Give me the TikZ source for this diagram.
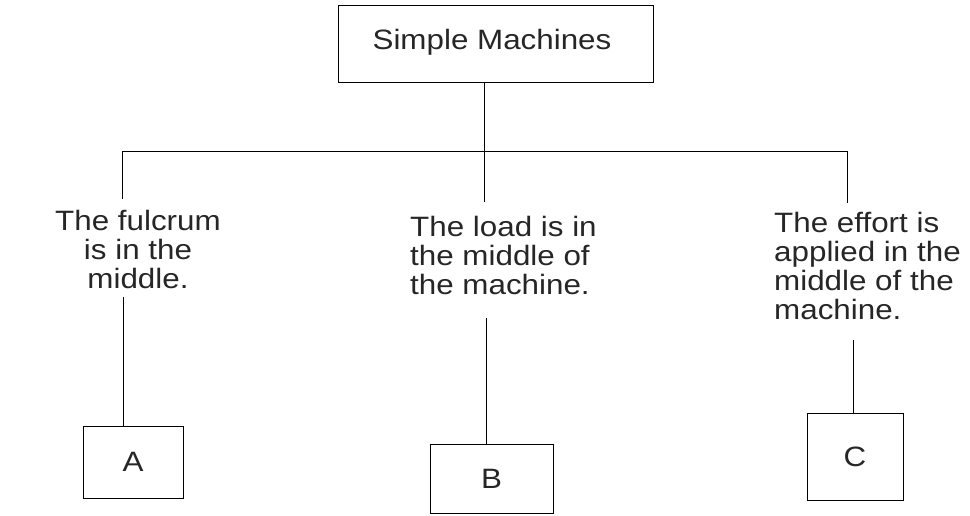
\documentclass[tikz,border=0pt]{standalone}
\usepackage{fontspec}
\setmainfont{Liberation Sans}
\newfontfamily\widesans[FakeStretch=1.12]{Liberation Sans}
\begin{document}
\begin{tikzpicture}[x=1pt,y=-1pt,
  box/.style={draw, line width=0.8pt, inner sep=0pt},
  lbl/.style={font=\widesans\fontsize{28}{29}\selectfont, inner sep=0pt, text=black!85},
  conn/.style={line width=0.8pt}]
\useasboundingbox (0,0) rectangle (970,515);
% top
\node[box, minimum width=315pt, minimum height=77pt] (top) at (495.5,43.5) {};
\node[lbl, anchor=base] (toptxt) at (492,49) {Simple Machines};
% texts
\node[lbl, align=center, anchor=north] (t1) at (138,210) {The fulcrum\\is in the\\middle.};
\node[lbl, align=left, anchor=north west] (t2) at (410,216) {The load is in\\the middle of\\the machine.};
\node[lbl, align=left, anchor=north west] (t3) at (774,212) {The effort is\\applied in the\\middle of the\\machine.};
% boxes
\node[box, lbl, minimum width=100pt, minimum height=72pt] (A) at (133,462) {A};
\node[box, lbl, minimum width=123pt, minimum height=69pt] (B) at (491.5,478.5) {B};
\node[box, lbl, minimum width=96pt, minimum height=87pt] (C) at (855,456.5) {C};
% connectors
\coordinate (jm) at (484,151);
\coordinate (jl) at (122,151);
\coordinate (jr) at (847,151);
\coordinate (el) at (122,199);
\coordinate (em) at (484,202);
\coordinate (er) at (847,203);
\coordinate (sl) at (123,297);
\coordinate (sm) at (486,318);
\coordinate (sr) at (853,340);
\draw[conn] (top.south -| jm) -- (jm);
\draw[conn] (jl) -- (jr);
\draw[conn] (jl) -- (el);
\draw[conn] (jm) -- (em);
\draw[conn] (jr) -- (er);
\draw[conn] (sl) -- (sl |- A.north);
\draw[conn] (sm) -- (sm |- B.north);
\draw[conn] (sr) -- (sr |- C.north);
\end{tikzpicture}
\end{document}
